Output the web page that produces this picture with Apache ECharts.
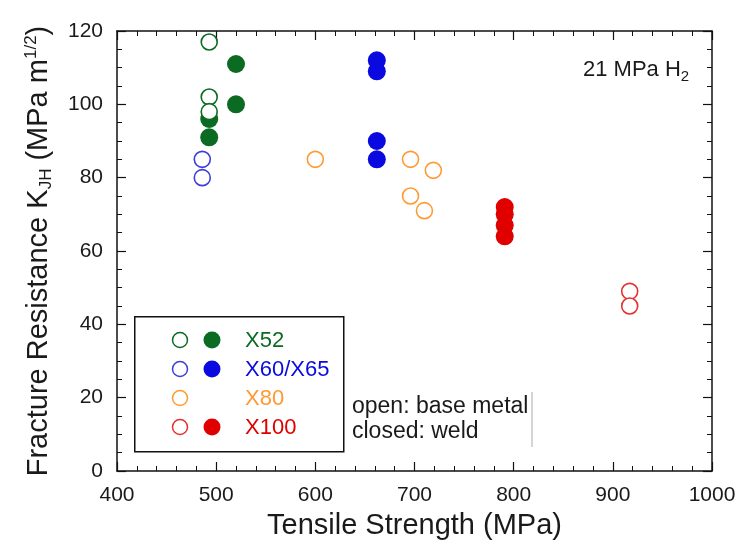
<!DOCTYPE html>
<html>
<head>
<meta charset="utf-8">
<script src="https://cdn.jsdelivr.net/npm/echarts@6/dist/echarts.min.js"></script>
<style>
  html, body { margin: 0; padding: 0; background: #fff; }
  #chart { width: 739px; height: 547px; }
</style>
</head>
<body>
<div id="chart"></div>
<script>
// Fracture resistance of pipeline steels in 21 MPa hydrogen vs tensile strength
// Each point: [tensile strength (MPa), K_JH (MPa m^1/2)]
const x52Base   = [[493, 117], [493, 102], [493, 98]];
const x52Weld   = [[520, 111], [520, 100], [493, 96], [493, 91]];
const x60Base   = [[486, 85], [486, 80]];
const x60Weld   = [[662, 112], [662, 109], [662, 90], [662, 85]];
const x80Base   = [[600, 85], [696, 85], [696, 75], [710, 71], [719, 82]];
const x100Base  = [[917, 49], [917, 45]];
const x100Weld  = [[791, 72], [791, 70], [791, 67], [791, 64]];

const xTicks = { min: 400, max: 1000, interval: 100 };
const yTicks = { min: 0, max: 120, interval: 20 };

const FONT = '"Liberation Sans", Arial, Helvetica, sans-serif';
const TEXT = '#1a1a1a';

const colors = {
  x52: '#0b6b22',
  x60: '#0a0ae0',
  x60open: '#3d3ddc',
  x80: '#ff9a33',
  x100: '#e00000',
  x100open: '#e63030'
};

function openSeries(name, data, color) {
  return {
    name, type: 'scatter', data, symbol: 'circle', symbolSize: 16,
    itemStyle: { color: '#ffffff', borderColor: color, borderWidth: 1.6, opacity: 1 },
    emphasis: { disabled: true }, z: 3
  };
}
function filledSeries(name, data, color) {
  return {
    name, type: 'scatter', data, symbol: 'circle', symbolSize: 18,
    itemStyle: { color: color, opacity: 1 },
    emphasis: { disabled: true }, z: 2
  };
}

const frameLine = { show: true, onZero: false, lineStyle: { color: '#111', width: 1.5 } };
function axisCommon(ticks, split, labels) {
  return {
    type: 'value', min: ticks.min, max: ticks.max, interval: ticks.interval,
    axisLine: frameLine,
    axisTick: { show: true, inside: true, length: 9, lineStyle: { color: '#111', width: 1.2 } },
    minorTick: { show: true, splitNumber: split, length: 5, lineStyle: { color: '#111', width: 1 } },
    splitLine: { show: false },
    minorSplitLine: { show: false },
    axisLabel: labels
      ? { show: true, fontSize: 21, color: TEXT, fontFamily: FONT, margin: 14, formatter: v => String(v) }
      : { show: false }
  };
}

const chart = echarts.init(document.getElementById('chart'), null, { renderer: 'canvas' });

// Legend rows: label, open colour, filled colour (null when no weld data), text colour
const legendRows = [
  ['X52', colors.x52, colors.x52, colors.x52],
  ['X60/X65', colors.x60open, colors.x60, colors.x60],
  ['X80', colors.x80, null, colors.x80],
  ['X100', colors.x100open, colors.x100, colors.x100]
];
const legendGraphics = [{
  type: 'rect', left: 134, top: 316,
  shape: { width: 209, height: 135 },
  style: { fill: '#fff', stroke: '#111', lineWidth: 1.5 }, z: 10
}];
legendRows.forEach((row, i) => {
  const cy = 340 + i * 29;
  legendGraphics.push({
    type: 'circle', shape: { cx: 180, cy, r: 7.5 },
    style: { fill: '#fff', stroke: row[1], lineWidth: 1.5 }, z: 11
  });
  if (row[2]) {
    legendGraphics.push({
      type: 'circle', shape: { cx: 212, cy, r: 8.5 },
      style: { fill: row[2] }, z: 11
    });
  }
  legendGraphics.push({
    type: 'text', x: 245, y: cy + 1,
    style: { text: row[0], fill: row[3], fontSize: 22, fontFamily: FONT, verticalAlign: 'middle' }, z: 11
  });
});

chart.setOption({
  backgroundColor: '#fff',
  animation: false,
  grid: { left: 117, right: 27, top: 31, bottom: 76, containLabel: false },
  xAxis: [
    Object.assign(axisCommon(xTicks, 5, true), {
      position: 'bottom',
      name: 'Tensile Strength (MPa)', nameLocation: 'middle', nameGap: 40,
      nameTextStyle: { fontSize: 29, color: TEXT, fontFamily: FONT, verticalAlign: 'top' }
    }),
    Object.assign(axisCommon(xTicks, 5, false), { position: 'top' })
  ],
  yAxis: [
    Object.assign(axisCommon(yTicks, 4, true), {
      position: 'left',
      name: 'Fracture Resistance K{sub|JH} (MPa m{sup|1/2})',
      nameLocation: 'middle', nameGap: 62, nameRotate: 90,
      nameTextStyle: {
        fontSize: 29, color: TEXT, fontFamily: FONT,
        rich: {
          sub: { fontSize: 17, color: TEXT, fontFamily: FONT, padding: [16, 0, 0, 0] },
          sup: { fontSize: 17, color: TEXT, fontFamily: FONT, padding: [0, 0, 14, 0] }
        }
      }
    }),
    Object.assign(axisCommon(yTicks, 4, false), { position: 'right' })
  ],
  series: [
    filledSeries('X52 weld', x52Weld, colors.x52),
    filledSeries('X60/X65 weld', x60Weld, colors.x60),
    filledSeries('X100 weld', x100Weld, colors.x100),
    openSeries('X52 base', x52Base, colors.x52),
    openSeries('X60/X65 base', x60Base, colors.x60open),
    openSeries('X80 base', x80Base, colors.x80),
    openSeries('X100 base', x100Base, colors.x100open)
  ],
  graphic: legendGraphics.concat([
    {
      type: 'text', x: 583, y: 70,
      style: {
        text: '21 MPa H{sub|2}', fill: TEXT, fontSize: 22, fontFamily: FONT, verticalAlign: 'middle',
        rich: { sub: { fontSize: 15, fill: TEXT, fontFamily: FONT, padding: [14, 0, 0, 0] } }
      }, z: 11
    },
    {
      type: 'text', x: 352, y: 407,
      style: { text: 'open: base metal', fill: TEXT, fontSize: 23, fontFamily: FONT, verticalAlign: 'middle' }, z: 11
    },
    {
      type: 'text', x: 352, y: 432,
      style: { text: 'closed: weld', fill: TEXT, fontSize: 23, fontFamily: FONT, verticalAlign: 'middle' }, z: 11
    },
    {
      type: 'line', shape: { x1: 532, y1: 392, x2: 532, y2: 447 },
      style: { stroke: '#aaa', lineWidth: 1 }, z: 11
    }
  ])
});
</script>
</body>
</html>
